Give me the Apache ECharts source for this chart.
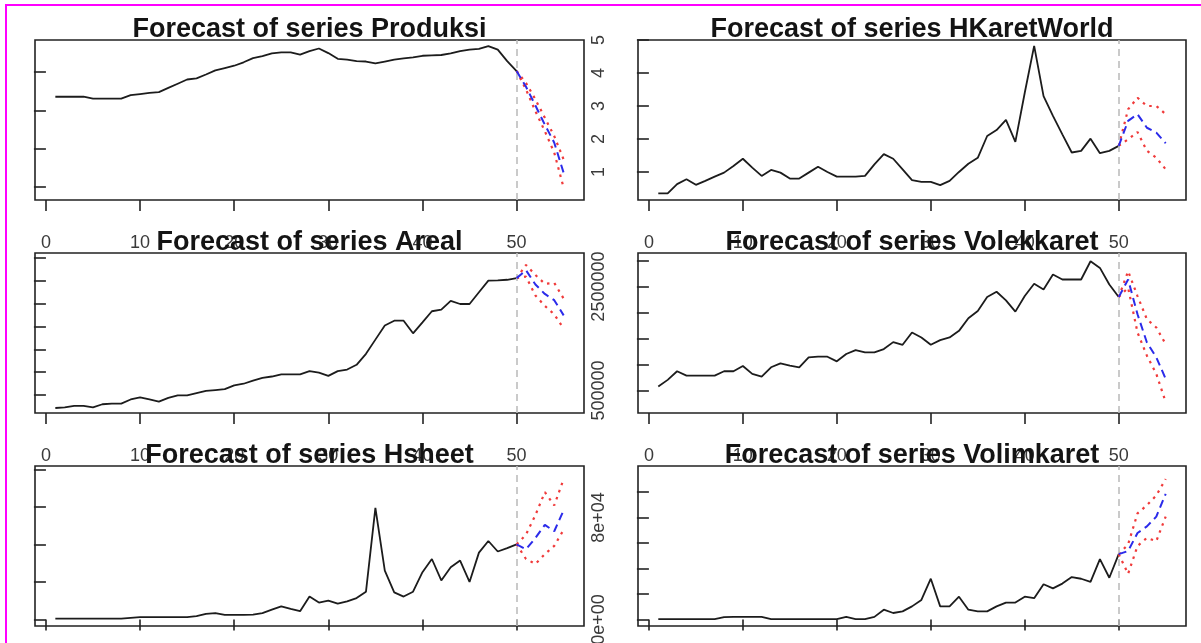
<!DOCTYPE html>
<html>
<head>
<meta charset="utf-8">
<script src="https://cdn.jsdelivr.net/npm/echarts@6/dist/echarts.min.js"></script>
<style>
  html, body { margin: 0; padding: 0; background: #ffffff; }
  #chart { width: 1201px; height: 643px; }
</style>
</head>
<body>
<div id="chart"></div>
<script>
// VAR forecasts: 50 observed periods followed by a 5-step forecast with confidence bands.

// ---- Produksi ----
const produksi = [3.36, 3.36, 3.36, 3.36, 3.31, 3.31, 3.31, 3.31, 3.40, 3.43,
  3.46, 3.48, 3.59, 3.70, 3.81, 3.84, 3.94, 4.05, 4.11, 4.17,
  4.26, 4.37, 4.42, 4.49, 4.52, 4.52, 4.46, 4.55, 4.62, 4.50,
  4.35, 4.33, 4.29, 4.28, 4.23, 4.28, 4.33, 4.36, 4.39, 4.43,
  4.44, 4.45, 4.49, 4.55, 4.59, 4.61, 4.68, 4.59, 4.29, 4.03];
const produksiFcst  = [3.62, 3.13, 2.63, 2.16, 1.37];
const produksiUpper = [3.72, 3.29, 2.81, 2.33, 1.72];
const produksiLower = [3.55, 2.98, 2.46, 1.90, 0.98];

// ---- HKaretWorld ----
const hKaretWorld = [0.35, 0.35, 0.63, 0.78, 0.61, 0.73, 0.86, 0.98, 1.18, 1.40,
  1.13, 0.88, 1.06, 0.98, 0.80, 0.80, 0.98, 1.16, 1.00, 0.86,
  0.86, 0.86, 0.88, 1.23, 1.54, 1.40, 1.08, 0.75, 0.70, 0.70,
  0.60, 0.73, 1.00, 1.25, 1.43, 2.09, 2.27, 2.58, 1.91, 3.40,
  4.82, 3.30, 2.70, 2.14, 1.59, 1.64, 2.01, 1.57, 1.64, 1.79];
const hKaretWorldFcst  = [2.55, 2.75, 2.34, 2.19, 1.87];
const hKaretWorldUpper = [2.90, 3.25, 3.00, 3.00, 2.75];
const hKaretWorldLower = [1.99, 2.21, 1.64, 1.43, 1.08];

// ---- Areal ----
const areal = [1359000, 1366000, 1383000, 1383000, 1366000, 1400000, 1407000, 1407000, 1452000, 1476000,
  1452000, 1428000, 1469000, 1497000, 1497000, 1521000, 1545000, 1555000, 1565000, 1607000,
  1624000, 1658000, 1689000, 1703000, 1727000, 1727000, 1727000, 1762000, 1745000, 1710000,
  1762000, 1779000, 1831000, 1951000, 2106000, 2261000, 2313000, 2313000, 2175000, 2295000,
  2416000, 2433000, 2530000, 2495000, 2495000, 2623000, 2750000, 2754000, 2760000, 2778000];
const arealFcst  = [2864000, 2709000, 2605000, 2537000, 2371000];
const arealUpper = [2922000, 2812000, 2716000, 2726000, 2554000];
const arealLower = [2795000, 2588000, 2475000, 2382000, 2227000];

// ---- Volekkaret ----
const volEkKaret = [576500, 704100, 869900, 787000, 787000, 787000, 787000, 869900, 869900, 971900,
  818900, 767900, 946400, 1022900, 978300, 946400, 1137700, 1150500, 1150500, 1061200,
  1201500, 1278000, 1233400, 1233400, 1297200, 1431100, 1380100, 1616100, 1520400, 1380100,
  1469400, 1520400, 1648000, 1890300, 2030600, 2298500, 2400500, 2234700, 2017800, 2317600,
  2553600, 2445100, 2732100, 2636500, 2636500, 2636500, 2987200, 2859700, 2540800, 2298500];
const volEkKaretFcst  = [2636500, 1966800, 1424700, 1137700, 723200];
const volEkKaretUpper = [2795900, 2317600, 1871200, 1711700, 1392800];
const volEkKaretLower = [2477000, 1616100, 1169600, 818900, 276800];

// ---- Hsheet ----
const hSheet = [0.02, 0.02, 0.02, 0.02, 0.02, 0.02, 0.02, 0.02, 0.04, 0.06,
  0.06, 0.06, 0.06, 0.06, 0.06, 0.09, 0.15, 0.17, 0.12, 0.12,
  0.12, 0.13, 0.17, 0.26, 0.35, 0.28, 0.22, 0.61, 0.45, 0.50,
  0.42, 0.48, 0.57, 0.74, 2.97, 1.30, 0.72, 0.61, 0.74, 1.26,
  1.61, 1.04, 1.39, 1.57, 1.00, 1.78, 2.09, 1.81, 1.90, 2.00];
const hSheetFcst  = [1.87, 2.17, 2.52, 2.35, 2.91];
const hSheetUpper = [2.26, 2.78, 3.39, 3.04, 3.74];
const hSheetLower = [1.61, 1.48, 1.74, 1.96, 2.39];

// ---- Volimkaret ----
const volImKaret = [300, 300, 300, 300, 300, 300, 300, 1800, 2050, 2050,
  2050, 2050, 300, 300, 300, 300, 300, 300, 300, 300,
  2050, 300, 300, 2050, 7700, 5100, 6400, 10300, 15400, 32000,
  10300, 10300, 17900, 7700, 6400, 6400, 10300, 13300, 13300, 17900,
  16700, 27700, 24400, 28200, 33300, 32000, 29500, 47400, 32800, 51300];
const volImKaretFcst  = [53800, 67900, 73100, 80800, 98700];
const volImKaretUpper = [59000, 83300, 89700, 97400, 110300];
const volImKaretLower = [35900, 57700, 64100, 61500, 80800];

// Period ticks shared by every panel
const xTicks = [0, 10, 20, 30, 40, 50];

// Panel definitions: series data, value range and tick marks of each plot
const panels = [
  { title: 'Forecast of series Produksi', hist: produksi, fc: produksiFcst, hi: produksiUpper, lo: produksiLower,
    yMin: 0.663, yMax: 4.842, yTicks: [1, 2, 3, 4], yLabels: [], col: 0, row: 0 },
  { title: 'Forecast of series HKaretWorld', hist: hKaretWorld, fc: hKaretWorldFcst, hi: hKaretWorldUpper, lo: hKaretWorldLower,
    yMin: 0.15, yMax: 5.0, yTicks: [1, 2, 3, 4, 5], yLabels: [1, 2, 3, 4, 5], fmt: 'plain', col: 1, row: 0 },
  { title: 'Forecast of series Areal', hist: areal, fc: arealFcst, hi: arealUpper, lo: arealLower,
    yMin: 1304250, yMax: 3052500, yTicks: [1500000, 1750000, 2000000, 2250000, 2500000, 2750000, 3000000], yLabels: [], col: 0, row: 1 },
  { title: 'Forecast of series Volekkaret', hist: volEkKaret, fc: volEkKaretFcst, hi: volEkKaretUpper, lo: volEkKaretLower,
    yMin: 66300, yMax: 3146700, yTicks: [500000, 1000000, 1500000, 2000000, 2500000, 3000000], yLabels: [500000, 2500000], fmt: 'plain', col: 1, row: 1 },
  { title: 'Forecast of series Hsheet', hist: hSheet, fc: hSheetFcst, hi: hSheetUpper, lo: hSheetLower,
    yMin: -0.174, yMax: 4.087, yTicks: [0, 1, 2, 3, 4], yLabels: [], col: 0, row: 2 },
  { title: 'Forecast of series Volimkaret', hist: volImKaret, fc: volImKaretFcst, hi: volImKaretUpper, lo: volImKaretLower,
    yMin: -5100, yMax: 120500, yTicks: [0, 20000, 40000, 60000, 80000, 100000], yLabels: [0, 80000], fmt: 'exp', col: 1, row: 2 }
];

// Layout of the 3 x 2 plot regions
const colLeft = [35, 638];
const colWidth = [549, 548];
const rowTop = [40, 253, 466];
const boxHeight = 160;

const FONT = '"Liberation Sans", Arial, sans-serif';

function expLabel(v) {
  if (v === 0) return '0e+00';
  const e = Math.floor(Math.log10(Math.abs(v)));
  const m = Math.round(v / Math.pow(10, e));
  return m + 'e' + (e < 0 ? '-' : '+') + String(Math.abs(e)).padStart(2, '0');
}

const grid = [], xAxis = [], yAxis = [], series = [], graphic = [];

panels.forEach((p, i) => {
  const left = colLeft[p.col], width = colWidth[p.col], top = rowTop[p.row];
  grid.push({ left: left, top: top, width: width, height: boxHeight, show: true,
    borderColor: '#222', borderWidth: 1.6, backgroundColor: 'transparent',
    containLabel: false, outerBoundsMode: 'none' });

  xAxis.push({
    type: 'value', gridIndex: i, min: -1.16, max: 57.16,
    axisLine: { show: false },
    splitLine: { show: false },
    axisTick: { show: true, customValues: xTicks, length: 11, inside: false, lineStyle: { color: '#222', width: 1.6 } },
    axisLabel: { show: true, customValues: xTicks, margin: 34, color: '#3a3a3a', fontSize: 18, fontFamily: FONT }
  });

  yAxis.push({
    type: 'value', gridIndex: i, min: p.yMin, max: p.yMax,
    axisLine: { show: false },
    splitLine: { show: false },
    axisTick: { show: true, customValues: p.yTicks, length: 12, lineStyle: { color: '#222', width: 1.6 } },
    axisLabel: {
      show: p.yLabels.length > 0, customValues: p.yLabels, rotate: 90, margin: 30,
      color: '#3a3a3a', fontSize: 18, fontFamily: FONT,
      formatter: v => (p.fmt === 'exp' ? expLabel(v) : String(v))
    }
  });

  const n = p.hist.length;
  const histData = p.hist.map((v, k) => [k + 1, v]);
  const start = [n, p.hist[n - 1]];
  const ahead = arr => [start].concat(arr.map((v, k) => [n + k + 1, v]));

  series.push({
    type: 'line', xAxisIndex: i, yAxisIndex: i, data: histData, showSymbol: false, silent: true,
    lineStyle: { color: '#1c1c1c', width: 1.8 }, z: 3,
    markLine: {
      silent: true, symbol: ['none', 'none'], label: { show: false },
      lineStyle: { color: '#bdbdbd', type: [7, 5], width: 1.6 },
      data: [{ xAxis: n }]
    }
  });
  series.push({
    type: 'line', xAxisIndex: i, yAxisIndex: i, data: ahead(p.hi), showSymbol: false, silent: true,
    lineStyle: { color: '#f03a3a', type: [2.5, 5], width: 2.2 }, z: 4
  });
  series.push({
    type: 'line', xAxisIndex: i, yAxisIndex: i, data: ahead(p.lo), showSymbol: false, silent: true,
    lineStyle: { color: '#f03a3a', type: [2.5, 5], width: 2.2 }, z: 4
  });
  series.push({
    type: 'line', xAxisIndex: i, yAxisIndex: i, data: ahead(p.fc), showSymbol: false, silent: true,
    lineStyle: { color: '#2b2bea', type: [8, 5], width: 2 }, z: 5
  });

  graphic.push({
    type: 'text', x: left + width / 2, y: top + 3, z: 10,
    style: { text: p.title, font: 'bold 27px ' + FONT, textAlign: 'center', textVerticalAlign: 'bottom', fill: '#141414' }
  });
});

// Magenta outer frame
graphic.push({
  type: 'rect', shape: { x: 6, y: 5, width: 1230, height: 700 }, z: 20, silent: true,
  style: { fill: 'none', stroke: '#ff00ff', lineWidth: 2 }
});

const chart = echarts.init(document.getElementById('chart'), null, { renderer: 'canvas' });
chart.setOption({
  animation: false,
  backgroundColor: '#ffffff',
  grid: grid,
  xAxis: xAxis,
  yAxis: yAxis,
  series: series,
  graphic: graphic
});
</script>
</body>
</html>
